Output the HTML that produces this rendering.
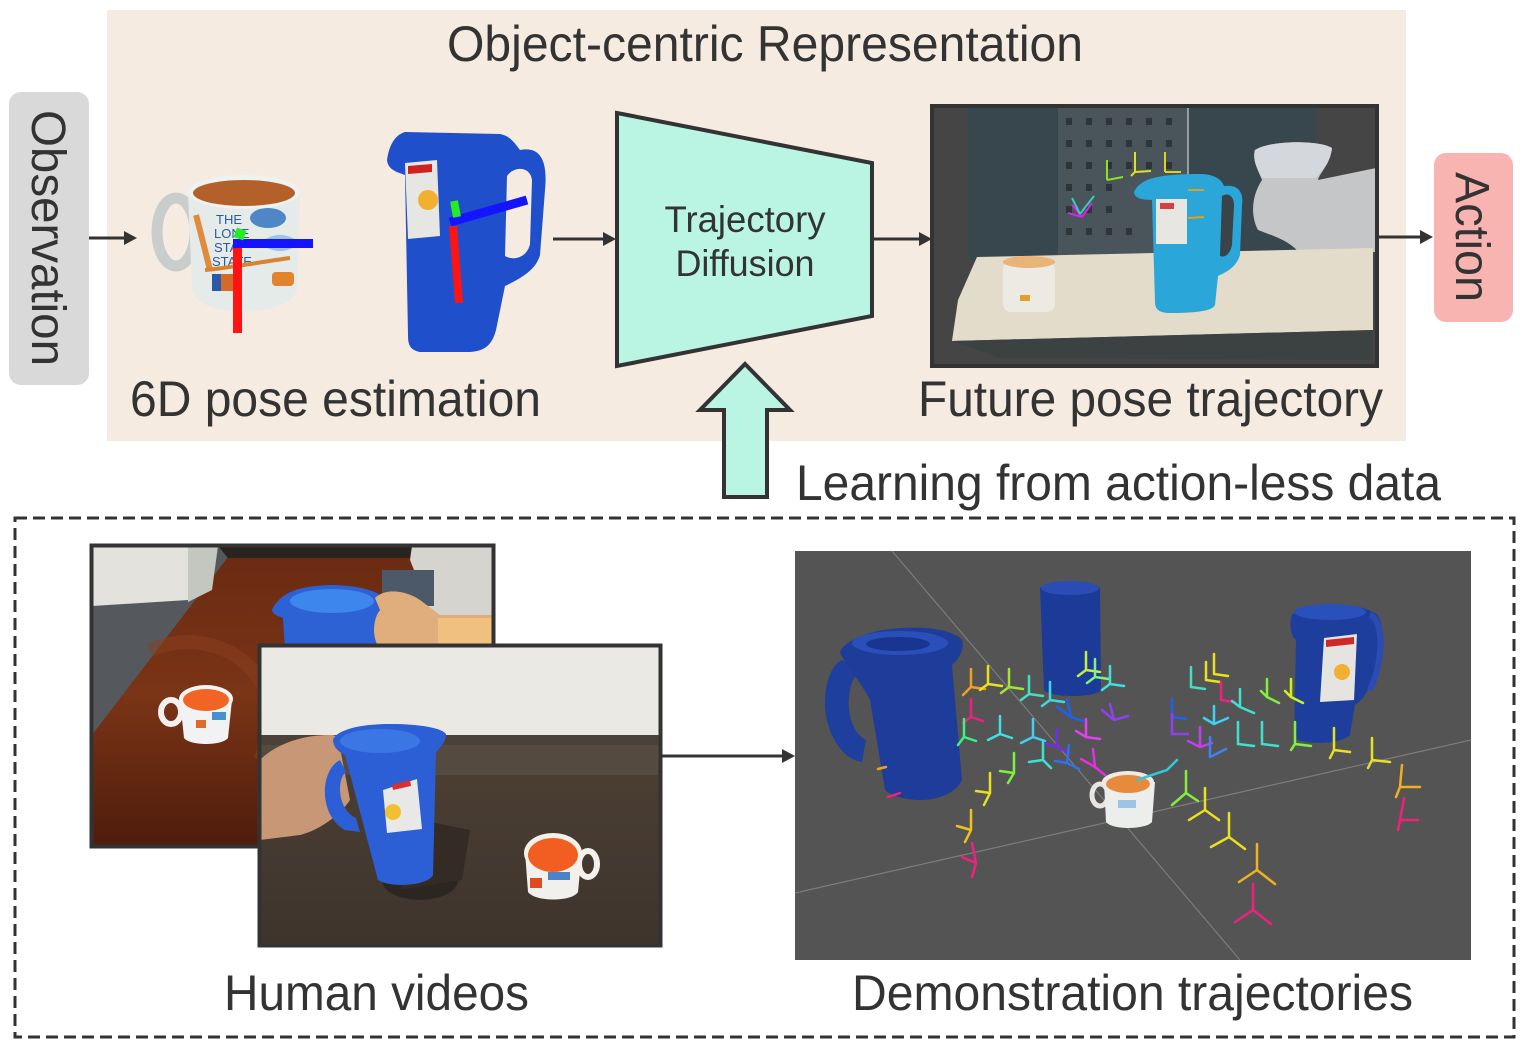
<!DOCTYPE html>
<html><head><meta charset="utf-8"><style>
html,body{margin:0;padding:0;background:#fff;}
body{width:1528px;height:1052px;overflow:hidden;}
svg{display:block;}
text{font-family:"Liberation Sans",Arial,sans-serif;fill:#333;}
</style></head><body>
<svg width="1528" height="1052" viewBox="0 0 1528 1052" xmlns="http://www.w3.org/2000/svg">
<defs>
<clipPath id="c1"><rect x="92" y="546" width="401" height="300"/></clipPath>
<clipPath id="c2"><rect x="260" y="646" width="400" height="299"/></clipPath>
<clipPath id="c3"><rect x="795" y="551" width="676" height="409"/></clipPath>
<clipPath id="c4"><rect x="932" y="106" width="445" height="260"/></clipPath>
<linearGradient id="tbl" x1="0" y1="0" x2="0" y2="1"><stop offset="0" stop-color="#6a2a12"/><stop offset="0.5" stop-color="#7a3416"/><stop offset="1" stop-color="#4e1d0c"/></linearGradient>
<linearGradient id="ctr" x1="0" y1="0" x2="0" y2="1"><stop offset="0" stop-color="#544639"/><stop offset="1" stop-color="#3e342c"/></linearGradient>
</defs>

<rect x="107" y="10" width="1299" height="431" fill="#f5ebe1"/>

<rect x="9" y="92" width="80" height="293" rx="12" fill="#d9d9d9"/>
<text transform="translate(49,238) rotate(90)" x="0" y="17" font-size="48" text-anchor="middle" textLength="256" lengthAdjust="spacingAndGlyphs">Observation</text>

<rect x="1434" y="153" width="79" height="169" rx="12" fill="#f8b4b0"/>
<text transform="translate(1473,237) rotate(90)" x="0" y="17" font-size="48" text-anchor="middle" textLength="130" lengthAdjust="spacingAndGlyphs">Action</text>

<text x="447" y="61" font-size="50" textLength="636" lengthAdjust="spacingAndGlyphs">Object-centric Representation</text>
<text x="130" y="416" font-size="50" textLength="411" lengthAdjust="spacingAndGlyphs">6D pose estimation</text>
<text x="918" y="416" font-size="50" textLength="465" lengthAdjust="spacingAndGlyphs">Future pose trajectory</text>
<text x="796" y="500" font-size="50" textLength="645" lengthAdjust="spacingAndGlyphs">Learning from action-less data</text>
<text x="224" y="1010" font-size="50" textLength="305" lengthAdjust="spacingAndGlyphs">Human videos</text>
<text x="852" y="1010" font-size="50" textLength="561" lengthAdjust="spacingAndGlyphs">Demonstration trajectories</text>

<g stroke="#333" stroke-width="3">
<line x1="89" y1="238" x2="126" y2="238"/>
<line x1="553" y1="239" x2="605" y2="239"/>
<line x1="872" y1="239" x2="921" y2="239"/>
<line x1="1379" y1="237" x2="1422" y2="237"/>
<line x1="662" y1="756" x2="784" y2="756"/>
</g>
<g fill="#333">
<polygon points="137,238 124,231 124,245"/>
<polygon points="616,239 603,232 603,246"/>
<polygon points="932,239 919,232 919,246"/>
<polygon points="1433,237 1420,230 1420,244"/>
<polygon points="795,756 782,749 782,763"/>
</g>

<polygon points="617,113 872,163 872,316 617,366" fill="#b9f5e2" stroke="#333" stroke-width="4" stroke-linejoin="miter"/>
<text x="745" y="232" font-size="37" text-anchor="middle" textLength="161" lengthAdjust="spacingAndGlyphs">Trajectory</text>
<text x="745" y="276" font-size="37" text-anchor="middle" textLength="139" lengthAdjust="spacingAndGlyphs">Diffusion</text>

<polygon points="724,497 724,410 700,410 745,364 790,410 767,410 767,497" fill="#b9f5e2" stroke="#333" stroke-width="4" stroke-linejoin="miter"/>

<rect x="15" y="518" width="1499" height="519" fill="none" stroke="#333" stroke-width="3" stroke-dasharray="12 6"/>

<!-- top mug -->
<g>
<ellipse cx="176" cy="232" rx="19" ry="34" fill="none" stroke="#c9cdcc" stroke-width="11"/>
<path d="M188,192 L300,192 L297,290 C292,305 270,311 243,311 C216,311 196,305 192,290 Z" fill="#e4ebe9"/>
<ellipse cx="244" cy="192" rx="56" ry="17" fill="#eef2f1"/>
<ellipse cx="244" cy="193" rx="51" ry="13" fill="#b4602a"/>
<path d="M196,215 C200,230 205,250 210,270" stroke="#e08a3a" stroke-width="6" fill="none"/>
<text x="216" y="224" font-size="13" style="fill:#2a5a9a" font-family="Liberation Serif,serif">THE</text>
<text x="214" y="238" font-size="13" style="fill:#2a5a9a" font-family="Liberation Serif,serif">LONE</text>
<text x="214" y="252" font-size="13" style="fill:#2a5a9a" font-family="Liberation Serif,serif">STA</text>
<text x="212" y="266" font-size="13" style="fill:#2a5a9a" font-family="Liberation Serif,serif">STATE</text>
<ellipse cx="268" cy="218" rx="18" ry="10" fill="#4f86c6"/>
<ellipse cx="280" cy="243" rx="16" ry="8" fill="#9cc4e4"/>
<path d="M205,270 C230,268 260,262 290,258" stroke="#d9822f" stroke-width="4" fill="none"/>
<rect x="212" y="274" width="22" height="17" fill="#d46a2a"/>
<rect x="212" y="274" width="9" height="17" fill="#2a5aa8"/>
<rect x="272" y="272" width="22" height="14" rx="4" fill="#e2832e"/>
<rect x="233" y="240" width="9" height="93" fill="#ff1414"/>
<rect x="233" y="239" width="80" height="9" fill="#1414ff"/>
<rect x="235" y="229" width="10" height="10" fill="#22ee22" transform="rotate(20 240 234)"/>
</g>

<!-- top pitcher -->
<g>
<path d="M387,160 C389,145 395,135 405,132 L500,134 C510,136 514,142 520,150 C540,146 548,160 545,190 L540,255 C536,270 520,279 505,286 L496,330 C492,345 485,351 470,352 L420,352 C410,350 408,345 408,335 L405,175 C397,172 388,170 387,160 Z" fill="#1f4fcb"/>
<path d="M507,176 C514,166 530,166 532,180 L530,244 C527,258 513,261 505,256 Z" fill="#f5ebe1"/>
<polygon points="405,163 437,160 440,236 408,239" fill="#e6e6e2"/>
<polygon points="408,166 432,164 432,172 408,174" fill="#d02020"/>
<circle cx="428" cy="200" r="10" fill="#f2b030"/>
<line x1="450" y1="222" x2="527" y2="200" stroke="#1414ff" stroke-width="9"/>
<line x1="453" y1="226" x2="459" y2="303" stroke="#ff1414" stroke-width="8"/>
<line x1="454" y1="201" x2="457" y2="217" stroke="#22ee22" stroke-width="8"/>
</g>

<!-- Future pose image -->
<rect x="930" y="104" width="449" height="264" fill="#454545"/>
<g clip-path="url(#c4)">
<rect x="968" y="108" width="348" height="152" fill="#37474d"/>
<rect x="1058" y="108" width="130" height="147" fill="#4a545b"/>
<g fill="#2d3539">
<rect x="1066" y="118" width="6" height="7"/><rect x="1086" y="118" width="6" height="7"/><rect x="1106" y="118" width="6" height="7"/><rect x="1126" y="118" width="6" height="7"/><rect x="1146" y="118" width="6" height="7"/><rect x="1166" y="118" width="6" height="7"/>
<rect x="1066" y="140" width="6" height="7"/><rect x="1086" y="140" width="6" height="7"/><rect x="1106" y="140" width="6" height="7"/><rect x="1126" y="140" width="6" height="7"/><rect x="1146" y="140" width="6" height="7"/><rect x="1166" y="140" width="6" height="7"/>
<rect x="1066" y="162" width="6" height="7"/><rect x="1086" y="162" width="6" height="7"/><rect x="1106" y="162" width="6" height="7"/><rect x="1126" y="162" width="6" height="7"/><rect x="1146" y="162" width="6" height="7"/><rect x="1166" y="162" width="6" height="7"/>
<rect x="1066" y="184" width="6" height="7"/><rect x="1086" y="184" width="6" height="7"/><rect x="1106" y="184" width="6" height="7"/><rect x="1166" y="184" width="6" height="7"/>
<rect x="1066" y="206" width="6" height="7"/><rect x="1086" y="206" width="6" height="7"/><rect x="1106" y="206" width="6" height="7"/><rect x="1166" y="206" width="6" height="7"/>
<rect x="1066" y="228" width="6" height="7"/><rect x="1086" y="228" width="6" height="7"/><rect x="1106" y="228" width="6" height="7"/><rect x="1126" y="228" width="6" height="7"/>
</g>
<line x1="1188" y1="108" x2="1188" y2="245" stroke="#b0b8c0" stroke-width="1.5"/>
<path d="M1255,150 C1270,140 1320,140 1332,148 C1330,165 1320,172 1318,180 L1376,168 L1376,252 L1300,254 C1290,240 1270,235 1258,230 C1250,215 1252,195 1262,180 C1258,170 1252,160 1255,150 Z" fill="#c4c6c8"/>
<path d="M1255,150 C1270,140 1320,140 1332,148 C1330,165 1320,172 1316,178 L1262,178 C1258,170 1252,160 1255,150 Z" fill="#d4d8dc"/>
<polygon points="977,257 1373,248 1373,330 952,341 958,300" fill="#e4dccb"/>
<polygon points="952,341 1373,330 1372,360 1000,358" fill="#3c4242"/>
<rect x="1003" y="262" width="52" height="50" rx="8" fill="#eceae2"/>
<ellipse cx="1029" cy="262" rx="26" ry="6" fill="#e8b478"/>
<rect x="1020" y="295" width="10" height="6" fill="#e0a030"/>
<path d="M1134,192 C1140,178 1160,174 1200,174 C1215,174 1222,180 1224,186 C1238,184 1244,192 1242,205 L1240,255 C1236,268 1226,272 1218,276 L1215,305 C1212,312 1190,313 1170,313 C1160,313 1155,310 1155,302 L1152,200 C1142,200 1134,198 1134,192 Z" fill="#2ba6d9"/>
<path d="M1222,196 C1228,192 1234,196 1234,205 L1232,245 C1230,255 1224,258 1220,256 Z" fill="#3a4448"/>
<rect x="1156" y="199" width="31" height="45" fill="#e8e6e0"/>
<rect x="1160" y="203" width="14" height="6" fill="#d84040"/>
<g fill="none" stroke-width="2">
<path d="M1082,217 l-10,-12 M1082,217 l10,-14 M1082,217 l-14,-4" stroke="#e020e0"/>
<path d="M1080,214 l-8,-16 M1080,214 l14,-18" stroke="#30d0c0"/>
<path d="M1107,180 l0,-20 M1107,180 l16,-3" stroke="#90e020"/>
<path d="M1135,172 l0,-20 M1135,172 l16,-1 M1135,172 l-4,4" stroke="#e0e020"/>
<path d="M1165,172 l0,-20 M1165,172 l16,0" stroke="#e0d020"/>
<path d="M1188,190 l16,0 M1188,218 l16,-1" stroke="#e0a020"/>
</g>
</g>
<rect x="932" y="106" width="445" height="260" fill="none" stroke="#333" stroke-width="4"/>

<!-- Human video 1 -->
<g clip-path="url(#c1)">
<rect x="92" y="546" width="401" height="300" fill="url(#tbl)"/>
<polygon points="92,546 230,546 228,557 92,735" fill="#55585c"/>
<polygon points="92,546 188,546 188,600 92,606" fill="#e4e2dc"/>
<polygon points="188,546 218,546 212,590 188,602" fill="#c4c6c0"/>
<polygon points="218,546 412,546 410,558 228,558" fill="#2a2420"/>
<polygon points="412,546 493,546 493,650 440,635 410,560" fill="#d6d4ce"/>
<rect x="382" y="570" width="52" height="36" fill="#4c5968"/>
<path d="M150,650 C220,620 300,680 260,760" stroke="#8a4020" stroke-width="14" fill="none" opacity="0.5"/>
<path d="M272,610 C280,592 300,586 330,585 C360,585 385,592 390,605 L392,650 L285,650 L283,618 C278,616 272,614 272,610 Z" fill="#2c62d4"/>
<ellipse cx="332" cy="601" rx="42" ry="12" fill="#3d86ee"/>
<path d="M385,600 C398,600 402,612 394,625" stroke="#2c62d4" stroke-width="8" fill="none"/>
<path d="M375,598 C385,588 405,590 420,600 L440,615 L493,615 L493,648 L380,648 C372,640 372,620 380,610 Z" fill="#dfae7c"/>
<rect x="438" y="618" width="55" height="28" fill="#f0c07e"/>
<ellipse cx="171" cy="712" rx="10" ry="12" fill="none" stroke="#f0f0f0" stroke-width="6"/>
<path d="M180,700 L232,700 L228,738 C222,746 190,746 184,738 Z" fill="#f0f2f4"/>
<ellipse cx="206" cy="699" rx="27" ry="14" fill="#f4f4f2"/>
<ellipse cx="206" cy="700" rx="23" ry="11" fill="#f06424"/>
<rect x="196" y="720" width="10" height="8" fill="#e06a2a"/>
<rect x="212" y="712" width="14" height="8" fill="#4a90d0"/>
</g>
<rect x="91.5" y="545.5" width="402" height="301" fill="none" stroke="#333" stroke-width="4"/>

<!-- Human video 2 -->
<rect x="258" y="644" width="404" height="303" fill="#333"/>
<g clip-path="url(#c2)">
<rect x="260" y="646" width="400" height="299" fill="url(#ctr)"/>
<rect x="260" y="646" width="400" height="89" fill="#ebe9e3"/>
<rect x="260" y="735" width="400" height="10" fill="#4a4239"/>
<rect x="260" y="745" width="400" height="30" fill="#554a3f"/>
<ellipse cx="420" cy="880" rx="38" ry="20" fill="#2c2620"/>
<path d="M420,820 L470,830 L462,880 L400,890 Z" fill="#332b24"/>
<path d="M260,760 C275,745 300,735 330,735 C340,735 345,742 340,748 L350,800 C340,815 320,830 300,835 L260,840 Z" fill="#c89876"/>
<path d="M333,740 C336,730 360,724 390,724 C420,724 442,728 446,734 C446,742 440,748 436,752 L433,875 C428,886 390,888 378,880 L345,755 C338,752 333,746 333,740 Z" fill="#2c5fd6"/>
<path d="M340,760 C320,770 318,815 345,830 L360,832 L356,818 C338,810 336,780 346,772 Z" fill="#2c5fd6"/>
<ellipse cx="380" cy="741" rx="40" ry="12" fill="#3a76e4"/>
<polygon points="383,790 417,779 422,829 387,833" fill="#e8e8e6"/>
<circle cx="393" cy="812" r="8" fill="#f0c030"/>
<polygon points="392,785 410,780 411,786 393,790" fill="#d83030"/>
<ellipse cx="588" cy="864" rx="9" ry="13" fill="none" stroke="#f4f0ea" stroke-width="6"/>
<path d="M525,852 L582,852 L578,892 C572,902 535,902 528,892 Z" fill="#f2f0ec"/>
<ellipse cx="553" cy="853" rx="29" ry="20" fill="#f4f0ea"/>
<ellipse cx="553" cy="855" rx="25" ry="17" fill="#f25e22"/>
<rect x="530" y="878" width="12" height="10" fill="#e04a20"/>
<rect x="548" y="872" width="22" height="8" fill="#4a84c8"/>
</g>
<rect x="259.5" y="645.5" width="401" height="300" fill="none" stroke="#333" stroke-width="4"/>

<!-- Demonstration image -->
<rect x="795" y="551" width="676" height="409" fill="#545454"/>
<g clip-path="url(#c3)">
<line x1="892" y1="551" x2="1240" y2="960" stroke="#7c7c7c" stroke-width="1.2"/>
<line x1="795" y1="893" x2="1471" y2="740" stroke="#7c7c7c" stroke-width="1.2"/>
<path d="M842,660 C830,665 822,690 826,715 C830,740 845,760 862,762 L866,740 C855,735 845,715 850,690 C852,678 858,672 862,672 Z" fill="#1f3f9e"/>
<path d="M840,652 C845,640 870,630 900,628 C935,626 955,632 962,640 C965,650 958,660 952,665 L962,780 C955,795 935,800 920,800 C905,800 890,795 885,790 L870,700 C860,680 845,665 840,652 Z" fill="#1e3c9a"/>
<ellipse cx="900" cy="643" rx="48" ry="12" fill="#2a4fb8"/>
<ellipse cx="898" cy="644" rx="32" ry="7" fill="#1a3590"/>
<path d="M1040,588 C1045,580 1095,580 1100,588 L1101,690 C1095,698 1050,698 1044,690 Z" fill="#1c3a98"/>
<ellipse cx="1070" cy="588" rx="29" ry="7" fill="#2a4cb4"/>
<path d="M1292,615 C1300,602 1360,602 1372,612 C1382,614 1384,630 1380,650 C1375,680 1365,700 1355,705 L1350,735 C1340,745 1305,745 1294,738 L1296,640 C1290,635 1289,622 1292,615 Z" fill="#1e3e9e"/>
<ellipse cx="1330" cy="612" rx="36" ry="8" fill="#2a50bc"/>
<path d="M1370,615 C1384,620 1384,660 1370,690" stroke="#2a4cb4" stroke-width="6" fill="none"/>
<polygon points="1324,638 1357,634 1354,700 1320,702" fill="#e6e4e0"/>
<polygon points="1326,640 1354,637 1354,644 1326,647" fill="#d02828"/>
<circle cx="1342" cy="672" r="8" fill="#f0b030"/>
<ellipse cx="1100" cy="795" rx="8" ry="11" fill="none" stroke="#e8e4e0" stroke-width="5"/>
<path d="M1104,782 L1155,782 L1152,822 C1145,830 1112,830 1106,822 Z" fill="#eceeec"/>
<ellipse cx="1128" cy="782" rx="26" ry="11" fill="#f0eae4"/>
<ellipse cx="1128" cy="784" rx="22" ry="9" fill="#e88a3c"/>
<rect x="1118" y="800" width="18" height="8" fill="#9cc4e4"/>
<g fill="none" stroke-width="2.5" stroke-linecap="round">
<path d="M971,687 l0,-18 M971,687 l14,2 M971,687 l-8,8" stroke="#f0a020"/>
<path d="M988,684 l0,-18 M988,684 l14,2 M988,684 l-8,6" stroke="#e8e020"/>
<path d="M1009,687 l0,-18 M1009,687 l14,2 M1009,687 l-8,6" stroke="#a0e830"/>
<path d="M1029,694 l0,-18 M1029,694 l14,2 M1029,694 l-8,6" stroke="#40e0c0"/>
<path d="M1050,700 l0,-18 M1050,700 l14,2 M1050,700 l-8,6" stroke="#40d8e0"/>
<path d="M1086,670 l0,-18 M1086,670 l14,2 M1086,670 l-8,6" stroke="#c0f040"/>
<path d="M1095,677 l0,-18 M1095,677 l14,2 M1095,677 l-8,6" stroke="#80f080"/>
<path d="M1110,684 l0,-18 M1110,684 l14,2 M1110,684 l-8,6" stroke="#40e0e0"/>
<path d="M971,717 l0,-18 M971,717 l12,4 M971,717 l-8,6" stroke="#f02080"/>
<path d="M964,737 l0,-18 M964,737 l12,4 M964,737 l-6,8" stroke="#40f080"/>
<path d="M1000,734 l0,-18 M1000,734 l12,4 M1000,734 l-12,6" stroke="#40e0e0"/>
<path d="M1033,737 l0,-18 M1033,737 l12,4 M1033,737 l-12,6" stroke="#40d0f0"/>
<path d="M1071,717 l-4,-18 M1071,717 l-14,-10 M1071,717 l12,4" stroke="#2060f0"/>
<path d="M1114,720 l-4,-16 M1114,720 l-12,-10 M1114,720 l14,-4" stroke="#9040f0"/>
<path d="M1086,737 l0,-18 M1086,737 l14,2 M1086,737 l-10,-6" stroke="#e040f0"/>
<path d="M1057,747 l0,-18 M1057,747 l-14,-4 M1057,747 l12,6" stroke="#7030e0"/>
<path d="M1043,760 l0,-18 M1043,760 l-14,2 M1043,760 l8,8" stroke="#40e0d0"/>
<path d="M1067,763 l2,-18 M1067,763 l-12,-2 M1067,763 l12,6" stroke="#3070f0"/>
<path d="M1095,767 l-2,-18 M1095,767 l-14,-8 M1095,767 l10,8" stroke="#e030e0"/>
<path d="M1014,773 l0,-20 M1014,773 l-14,-2 M1014,773 l-6,10" stroke="#80f040"/>
<path d="M990,793 l0,-20 M990,793 l-14,-2 M990,793 l-6,12" stroke="#e8e020"/>
<path d="M971,830 l0,-20 M971,830 l-14,-4 M971,830 l-6,12" stroke="#f0c020"/>
<path d="M976,863 l-4,-20 M976,863 l-14,-6 M976,863 l-4,14" stroke="#f02080"/>
<path d="M900,793 l-12,4" stroke="#f02080"/>
<path d="M886,767 l-8,2" stroke="#f0a020"/>
<path d="M1191,687 l0,-20 M1191,687 l14,2" stroke="#40e0c0"/>
<path d="M1214,674 l0,-20 M1214,674 l14,2 M1206,680 l0,-18 M1206,680 l14,2" stroke="#e8e020"/>
<path d="M1221,700 l0,-18 M1221,700 l14,2" stroke="#f02080"/>
<path d="M1240,707 l0,-18 M1240,707 l14,6 M1240,707 l-8,-6" stroke="#40e0d0"/>
<path d="M1267,697 l0,-18 M1267,697 l12,6 M1267,697 l-6,-6" stroke="#80f040"/>
<path d="M1291,697 l0,-18 M1291,697 l12,6 M1291,697 l-6,-6" stroke="#d0f020"/>
<path d="M1172,717 l0,-18 M1172,717 l14,2" stroke="#2060f0"/>
<path d="M1172,734 l0,-20 M1172,734 l16,0" stroke="#9040f0"/>
<path d="M1214,724 l0,-18 M1214,724 l14,-6 M1214,724 l-10,-6" stroke="#40d0f0"/>
<path d="M1238,744 l0,-22 M1238,744 l16,2" stroke="#40e0d0"/>
<path d="M1262,744 l0,-22 M1262,744 l16,2" stroke="#40e0d0"/>
<path d="M1295,744 l0,-22 M1295,744 l16,2 M1295,744 l-4,6" stroke="#80f040"/>
<path d="M1334,750 l0,-22 M1334,750 l16,2 M1334,750 l-4,8" stroke="#e8e020"/>
<path d="M1372,760 l0,-22 M1372,760 l18,2 M1372,760 l-4,8" stroke="#e8e020"/>
<path d="M1400,787 l2,-22 M1400,787 l20,0 M1400,787 l-4,10" stroke="#f0b020"/>
<path d="M1400,820 l4,-22 M1400,820 l18,0 M1400,820 l-2,10" stroke="#f02080"/>
<path d="M1200,747 l0,-20 M1200,747 l-12,-6 M1200,747 l12,-4" stroke="#c040f0"/>
<path d="M1210,757 l0,-20 M1210,757 l16,-8" stroke="#4080f0"/>
<path d="M1167,770 l-30,10 M1167,770 l10,-10" stroke="#30c8e0"/>
<path d="M1186,793 l0,-22 M1186,793 l-14,12 M1186,793 l12,8" stroke="#80f040"/>
<path d="M1205,810 l0,-22 M1205,810 l-16,10 M1205,810 l14,10" stroke="#e8e020"/>
<path d="M1229,837 l0,-24 M1229,837 l-18,10 M1229,837 l16,12" stroke="#e8e020"/>
<path d="M1257,870 l0,-26 M1257,870 l-18,12 M1257,870 l18,14" stroke="#f0b020"/>
<path d="M1253,910 l0,-26 M1253,910 l-18,12 M1253,910 l18,14" stroke="#f02080"/>
</g>
</g>
</svg>
</body></html>
